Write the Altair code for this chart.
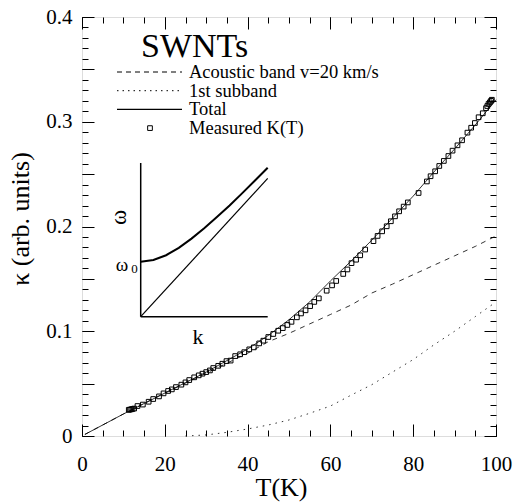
import altair as alt
import pandas as pd

FONT = "Liberation Serif"

# ---------------- data ----------------
meas_T = [11.3, 11.6, 11.9, 12.2, 12.6, 13.4, 14.7, 16.1, 17.2, 18.6, 19.7, 20.8, 21.7, 22.7,
          24.0, 25.0, 25.9, 27.1, 28.2, 29.1, 30.0, 30.9, 31.7, 32.9, 33.9, 34.9, 35.9, 37.0,
          38.2, 39.2, 40.4, 41.5, 42.8, 43.8, 45.0, 46.2, 47.4, 48.5, 49.6, 50.6, 51.9, 52.9,
          54.0, 55.1, 56.1, 57.2, 59.1, 60.4, 61.4, 63.1, 64.1, 65.1, 66.2, 67.2, 68.4, 70.4,
          71.4, 72.5, 73.6, 74.6, 75.6, 76.6, 77.7, 78.7, 81.3, 83.3, 84.2, 85.3, 86.3, 87.4,
          88.5, 89.5, 90.7, 91.8, 93.1, 94.0, 94.9, 95.8, 96.8, 97.6, 97.9, 98.2, 98.5, 98.8, 99.0]
meas_k = [0.0250, 0.0252, 0.0255, 0.0258, 0.0262, 0.0286, 0.0300, 0.0327, 0.0353, 0.0378, 0.0407,
          0.0430, 0.0445, 0.0467, 0.0490, 0.0512, 0.0534, 0.0560, 0.0579, 0.0595, 0.0610, 0.0626,
          0.0649, 0.0670, 0.0690, 0.0715, 0.0720, 0.0763, 0.0780, 0.0800, 0.0827, 0.0846, 0.0884,
          0.0910, 0.0945, 0.0974, 0.1005, 0.1030, 0.1060, 0.1090, 0.1133, 0.1170, 0.1200, 0.1240,
          0.1280, 0.1314, 0.1387, 0.1438, 0.1480, 0.1547, 0.1590, 0.1650, 0.1683, 0.1725, 0.1780,
          0.1860, 0.1910, 0.1954, 0.2002, 0.2050, 0.2097, 0.2145, 0.2190, 0.2230, 0.2320, 0.2430,
          0.2480, 0.2527, 0.2578, 0.2626, 0.2673, 0.2724, 0.2775, 0.2823, 0.2896, 0.2943, 0.2988,
          0.3043, 0.3081, 0.3130, 0.3150, 0.3170, 0.3185, 0.3200, 0.3210]
assert len(meas_T) == len(meas_k)

curve_T = [0.7, 5, 10, 15, 20, 25, 30, 35, 40, 45, 50, 55, 60, 65, 70, 75, 80, 85, 90, 95, 100]
total_k = [0.0015, 0.0105, 0.021, 0.031, 0.041, 0.051, 0.061, 0.072, 0.083, 0.096, 0.111, 0.128,
           0.148, 0.167, 0.187, 0.208, 0.229, 0.252, 0.274, 0.297, 0.321]
acoustic_k = [0.0015, 0.0105, 0.021, 0.031, 0.041, 0.0505, 0.060, 0.0695, 0.079, 0.090, 0.098,
              0.107, 0.116, 0.125, 0.1365, 0.145, 0.154, 0.163, 0.172, 0.181, 0.191]

sub_T = [25, 30, 35, 40, 45, 50, 55, 60, 65, 70, 75, 80, 85, 90, 95, 100]
sub_k = [0.0, 0.001, 0.0035, 0.0067, 0.0105, 0.0153, 0.0217, 0.0286, 0.039, 0.049, 0.061,
         0.073, 0.087, 0.100, 0.114, 0.128]

# inset dispersion sketch (arbitrary units)
inset_kk = [0.0, 0.1, 0.2, 0.3, 0.4, 0.5, 0.6, 0.7, 0.8, 0.9, 1.0]
inset_optical = [0.358, 0.369, 0.400, 0.448, 0.508, 0.575, 0.648, 0.724, 0.804, 0.886, 0.969]
inset_ac_k = [0.0, 1.0]
inset_ac_w = [0.0, 0.90]

x_major = [0, 20, 40, 60, 80, 100]
x_minor = list(range(0, 101, 5))
y_major = [0, 0.05, 0.1, 0.15, 0.2, 0.25, 0.3, 0.35, 0.4]
y_minor = [i / 100 for i in range(41)]

legend_labels = ["Acoustic band v=20 km/s", "1st subband", "Total", "Measured K(T)"]

# ---------------- frames ----------------
meas = pd.DataFrame({"T": meas_T, "k": meas_k})
curves = pd.DataFrame({"T": curve_T, "total": total_k, "acoustic": acoustic_k})
sub = pd.DataFrame({"T": sub_T, "k": sub_k})
inset_opt = pd.DataFrame({"q": inset_kk, "w": inset_optical})
inset_ac = pd.DataFrame({"q": inset_ac_k, "w": inset_ac_w})

xs = alt.Scale(domain=[0, 100], nice=False, zero=False)
ys = alt.Scale(domain=[0, 0.4], nice=False, zero=False)

W, H = 414, 419

def ax(orient, values, size, labels=False, title=None, **kw):
    args = dict(orient=orient, values=values, tickSize=size, offset=-size, domain=False,
                grid=False, labels=labels, ticks=True, tickColor="black", tickWidth=1,
                labelFlush=False, labelOverlap=False)
    if title is not None:
        args.update(title=title, titleFont=FONT, titleFontWeight="normal", titleColor="black")
    else:
        args.update(title=None)
    args.update(kw)
    return alt.Axis(**args)

def carrier(xaxis, yaxis):
    return alt.Chart(meas).mark_point(opacity=0).encode(
        x=alt.X("T:Q", scale=xs, axis=xaxis),
        y=alt.Y("k:Q", scale=ys, axis=yaxis),
    )

c1 = carrier(
    ax("bottom", x_major, 12, labels=True, title="T(K)", labelFont=FONT, labelFontSize=21,
       labelColor="black", labelPadding=17, titleFontSize=26, titlePadding=0, titleX=199),
    ax("left", y_major, 12, labels=True, title="κ (arb. units)", labelFont=FONT,
       labelFontSize=21, labelColor="black", labelPadding=10, titleFontSize=26, titlePadding=12,
       titleY=201.5,
       labelExpr="abs(datum.value*10 - round(datum.value*10)) < 0.001 ? format(datum.value, '.1~f') : ''"),
)
c2 = carrier(ax("bottom", x_minor, 6), ax("left", y_minor, 6))
c3 = carrier(ax("top", x_major, 12), ax("right", y_major, 12))
c4 = carrier(ax("top", x_minor, 6), ax("right", y_minor, 6))

total_line = alt.Chart(curves).mark_line(color="black", strokeWidth=0.8).encode(
    x=alt.X("T:Q", scale=xs, axis=None), y=alt.Y("total:Q", scale=ys, axis=None))
ac_line = alt.Chart(curves).mark_line(color="black", strokeWidth=0.8, strokeDash=[5, 5]).encode(
    x=alt.X("T:Q", scale=xs, axis=None), y=alt.Y("acoustic:Q", scale=ys, axis=None))
sub_line = alt.Chart(sub).mark_line(color="black", strokeWidth=0.8, strokeDash=[1.5, 5]).encode(
    x=alt.X("T:Q", scale=xs, axis=None), y=alt.Y("k:Q", scale=ys, axis=None))
pts = alt.Chart(meas).mark_point(shape="square", size=22, filled=False, color="black",
                                 strokeWidth=1, opacity=1).encode(
    x=alt.X("T:Q", scale=xs, axis=None), y=alt.Y("k:Q", scale=ys, axis=None))

one = pd.DataFrame({"a": [0]})

def txt(s, x, y, size, **kw):
    return alt.Chart(one).mark_text(text=s, font=FONT, fontSize=size, color="black",
                                    align=kw.pop("align", "left"), baseline=kw.pop("baseline", "middle"),
                                    **kw).encode(x=alt.value(x), y=alt.value(y))

def seg(x1, x2, y, dash=None, width=1.0):
    kw = dict(color="black", strokeWidth=width)
    if dash:
        kw["strokeDash"] = dash
    return alt.Chart(one).mark_rule(**kw).encode(x=alt.value(x1), x2=alt.value(x2), y=alt.value(y))

rows = [55, 73.7, 92.4, 111.1]
legend = [
    txt("SWNTs", 59, 40, 34, baseline="alphabetic"),
    seg(35, 100, rows[0], dash=[5, 4]),
    seg(35, 100, rows[1], dash=[1.5, 4]),
    seg(35, 100, rows[2], width=1.2),
    alt.Chart(one).mark_point(shape="square", size=22, filled=False, color="black",
                              strokeWidth=1, opacity=1).encode(x=alt.value(68), y=alt.value(rows[3])),
]
for lab, r in zip(legend_labels, rows):
    legend.append(txt(lab, 107, r, 18.5))

main = alt.layer(c1, c2, c3, c4, total_line, ac_line, sub_line, pts, *legend).resolve_axis(
    x="independent", y="independent")

# inset
ixs = alt.Scale(domain=[0, 1], range=[58.7, 185.7], nice=False, zero=False)
iys = alt.Scale(domain=[0, 1], range=[299.7, 146], nice=False, zero=False)
i_opt = alt.Chart(inset_opt).mark_line(color="black", strokeWidth=2).encode(
    x=alt.X("q:Q", scale=ixs, axis=None), y=alt.Y("w:Q", scale=iys, axis=None))
i_ac = alt.Chart(inset_ac).mark_line(color="black", strokeWidth=1.2).encode(
    x=alt.X("q:Q", scale=ixs, axis=None), y=alt.Y("w:Q", scale=iys, axis=None))
i_axes = [
    alt.Chart(one).mark_rule(color="black", strokeWidth=1.5).encode(
        x=alt.value(58.7), y=alt.value(146), y2=alt.value(299.7)),
    alt.Chart(one).mark_rule(color="black", strokeWidth=1.5).encode(
        x=alt.value(58.7), x2=alt.value(185.7), y=alt.value(299.7)),
    txt("ω", 37, 200.5, 23, angle=270, align="center"),
    txt("ω", 40, 248, 19, align="center"),
    txt("0", 52.5, 252, 13, align="center"),
    txt("k", 116, 320, 22, align="center"),
]
inset = alt.layer(i_opt, i_ac, *i_axes)

chart = alt.layer(main, inset).resolve_scale(x="independent", y="independent").properties(
    width=W, height=H,
    autosize=alt.AutoSizeParams(type="none"),
    padding={"left": 82, "top": 17, "right": 18, "bottom": 66},
).configure_view(stroke="black", strokeWidth=1.3).configure(background="white", font=FONT)

chart.save("out.html", embed_options={"renderer": "svg", "actions": False})
